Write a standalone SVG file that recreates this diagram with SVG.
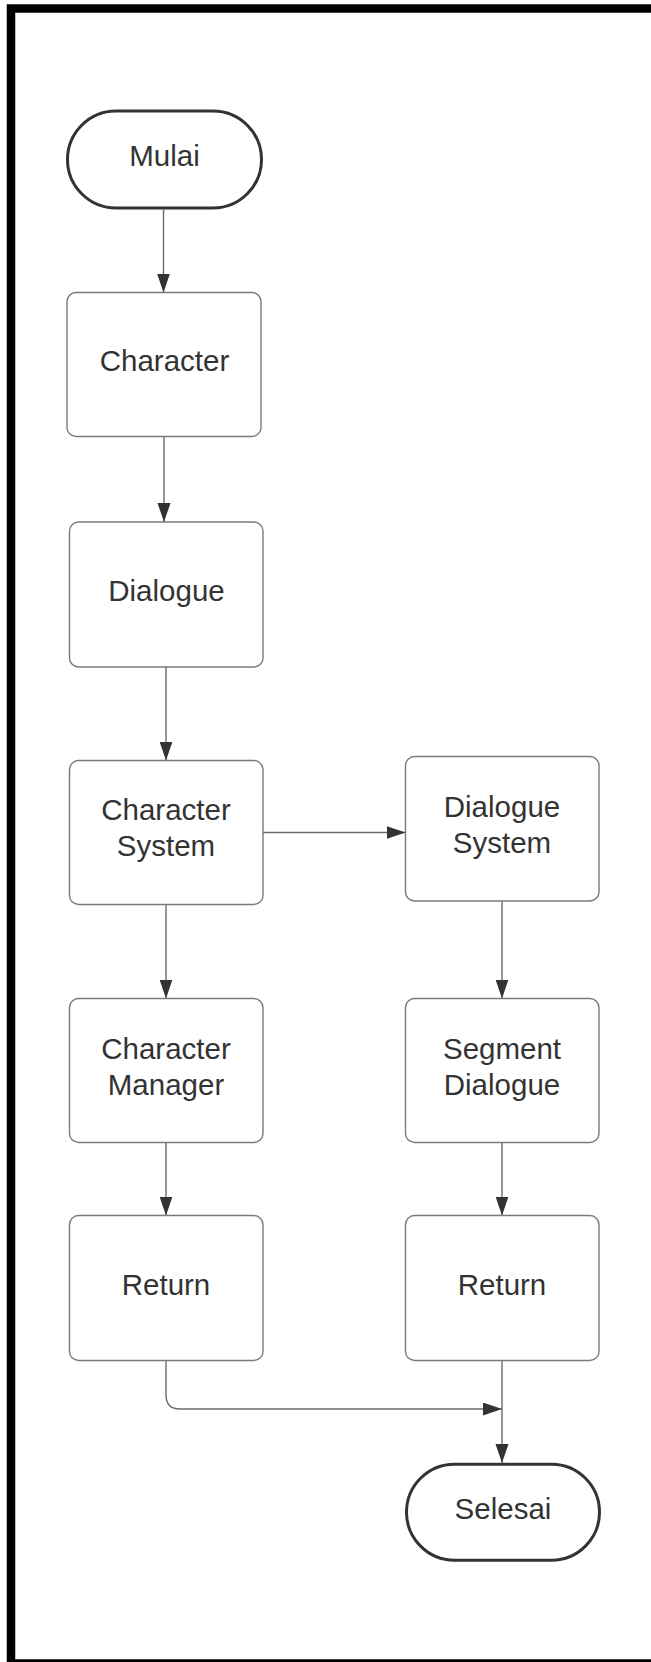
<svg xmlns="http://www.w3.org/2000/svg" width="651" height="1662" viewBox="0 0 651 1662">
<style>
.box{fill:#fff;stroke:#7a7a7a;stroke-width:1.4}
.term{fill:#fff;stroke:#333;stroke-width:3}
.lbl{font-family:"Liberation Sans",Arial,sans-serif;font-size:29.5px;fill:#333;text-anchor:middle}
.con{fill:none;stroke:#6b6b6b;stroke-width:1.4}
</style>
<defs>
<marker id="ah" markerUnits="userSpaceOnUse" markerWidth="20" markerHeight="14" refX="19" refY="6.5" orient="auto">
<path d="M0,0 L19,6.5 L0,13 z" fill="#333"/>
</marker>
</defs>
<rect x="0" y="0" width="651" height="1662" fill="#fff"/>
<rect id="frame" x="11" y="8.5" width="700" height="1655" fill="none" stroke="#000" stroke-width="8.5"/>
<g id="connectors">
<path class="con" d="M163.5,209.5 V292.5" marker-end="url(#ah)"/>
<path class="con" d="M164,436.5 V522" marker-end="url(#ah)"/>
<path class="con" d="M166,667 V760.5" marker-end="url(#ah)"/>
<path class="con" d="M262.5,832.5 H405.5" marker-end="url(#ah)"/>
<path class="con" d="M166,904.5 V998.5" marker-end="url(#ah)"/>
<path class="con" d="M502,901 V998.5" marker-end="url(#ah)"/>
<path class="con" d="M166,1142.5 V1215.5" marker-end="url(#ah)"/>
<path class="con" d="M502,1142.5 V1215.5" marker-end="url(#ah)"/>
<path class="con" d="M166,1360.5 V1395 Q166,1409 180,1409 H502" marker-end="url(#ah)"/>
<path class="con" d="M502,1360.5 V1463" marker-end="url(#ah)"/>
</g>
<g id="mulai">
<rect class="term" x="67.5" y="111" width="194" height="97" rx="48.5"/>
<text class="lbl" x="164.5" y="166">Mulai</text>
</g>
<g id="character">
<rect class="box" x="67" y="292.5" width="194" height="144" rx="9"/>
<text class="lbl" x="164.5" y="371">Character</text>
</g>
<g id="dialogue">
<rect class="box" x="69.5" y="522" width="193.5" height="145" rx="9"/>
<text class="lbl" x="166.5" y="601">Dialogue</text>
</g>
<g id="character-system">
<rect class="box" x="69.5" y="760.5" width="193.5" height="144" rx="9"/>
<text class="lbl" x="166" y="820">Character</text>
<text class="lbl" x="166" y="856">System</text>
</g>
<g id="dialogue-system">
<rect class="box" x="405.5" y="756.5" width="193.5" height="144.5" rx="9"/>
<text class="lbl" x="502" y="816.5">Dialogue</text>
<text class="lbl" x="502" y="852.5">System</text>
</g>
<g id="character-manager">
<rect class="box" x="69.5" y="998.5" width="193.5" height="144" rx="9"/>
<text class="lbl" x="166" y="1058.5">Character</text>
<text class="lbl" x="166" y="1094.5">Manager</text>
</g>
<g id="segment-dialogue">
<rect class="box" x="405.5" y="998.5" width="193.5" height="144" rx="9"/>
<text class="lbl" x="502" y="1058.5">Segment</text>
<text class="lbl" x="502" y="1094.5">Dialogue</text>
</g>
<g id="return-left">
<rect class="box" x="69.5" y="1215.5" width="193.5" height="145" rx="9"/>
<text class="lbl" x="166" y="1294.5">Return</text>
</g>
<g id="return-right">
<rect class="box" x="405.5" y="1215.5" width="193.5" height="145" rx="9"/>
<text class="lbl" x="502" y="1294.5">Return</text>
</g>
<g id="selesai">
<rect class="term" x="406.5" y="1464.2" width="193" height="96" rx="48"/>
<text class="lbl" x="503" y="1518.5">Selesai</text>
</g>
</svg>
